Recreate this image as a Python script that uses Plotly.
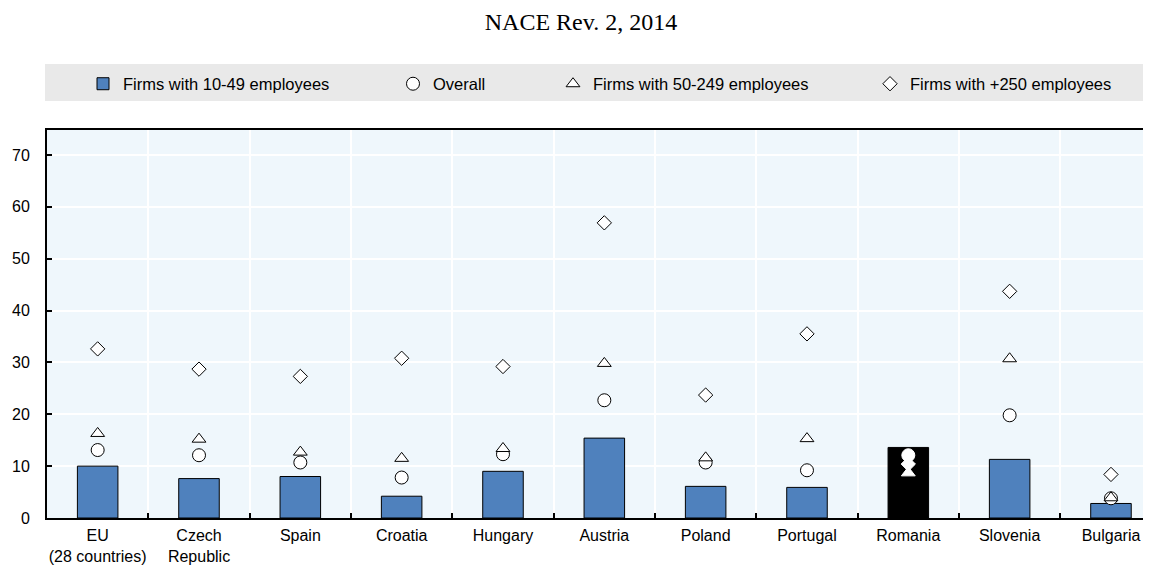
import plotly.graph_objects as go

countries = ["EU<br>(28 countries)", "Czech<br>Republic", "Spain", "Croatia", "Hungary",
             "Austria", "Poland", "Portugal", "Romania", "Slovenia", "Bulgaria"]
firms_10_49 = [10.0, 7.6, 8.0, 4.2, 9.0, 15.4, 6.1, 5.9, 13.6, 11.3, 2.8]
overall = [13.1, 12.1, 10.7, 7.8, 12.3, 22.7, 10.7, 9.2, 12.1, 19.8, 3.8]
firms_50_249 = [16.3, 15.2, 12.7, 11.5, 13.4, 29.8, 11.6, 15.3, 8.7, 30.7, 3.9]
firms_250 = [32.6, 28.7, 27.3, 30.8, 29.2, 56.9, 23.7, 35.5, 10.4, 43.7, 8.4]
highlight = "Romania"

BLUE = "#4F81BD"
FONT = "Liberation Sans, Arial, sans-serif"
x = list(range(len(countries)))
is_hl = [c == highlight for c in countries]

bar_colors = ["#000000" if h else BLUE for h in is_hl]
mk_fill = ["#FFFFFF" for h in is_hl]
mk_line = ["#FFFFFF" if h else "#000000" for h in is_hl]

fig = go.Figure()
fig.add_trace(go.Bar(
    x=x, y=firms_10_49, name="Firms with 10-49 employees", width=0.4,
    marker=dict(color=bar_colors, line=dict(color="#000000", width=1)),
    legendwidth=265,
))


def add_markers(vals, name, symbol, size, lw):
    fig.add_trace(go.Scatter(
        x=x, y=vals, name=name, mode="markers",
        marker=dict(symbol=symbol, size=size, color=mk_fill,
                    line=dict(color=mk_line, width=1)),
        legendwidth=lw, cliponaxis=False,
    ))


add_markers(overall, "Overall", "circle", 13, 115)
add_markers(firms_50_249, "Firms with 50-249 employees", "triangle-up", 12, 272)
add_markers(firms_250, "Firms with +250 employees", "diamond", 11, 220)

# the page body adds an 8px offset; the figure is sized to fill the rest of the window
OFF = 8
W, H = 1151 - OFF, 567 - OFF
ML, MR, MT, MB = 47 - OFF, 0, 130 - OFF, 49
pw = W - ML - MR
ph = H - MT - MB


def px_x(p):
    return (p - OFF - ML) / pw


def px_y(p):
    return (H - MB - (p - OFF)) / ph


fig.add_shape(type="rect", xref="paper", yref="paper",
              x0=px_x(45), x1=px_x(1160), y0=px_y(101), y1=px_y(64),
              fillcolor="#E9E9E9", line=dict(width=0), layer="below")

fig.update_layout(
    width=W, height=H,
    margin=dict(l=ML, r=MR, t=MT, b=MB, autoexpand=False),
    paper_bgcolor="#FFFFFF",
    plot_bgcolor="#EFF7FC",
    font=dict(family=FONT, size=16, color="#000000"),
    title=dict(text="NACE Rev. 2, 2014", x=(581 - OFF) / W, xref="container", xanchor="center",
               y=1 - (22 - OFF) / H, yref="container", yanchor="middle",
               font=dict(family="Liberation Serif, Times New Roman, serif", size=24, color="#000000")),
    showlegend=True,
    legend=dict(orientation="h", x=px_x(83), xanchor="left", y=px_y(84), yanchor="middle",
                bgcolor="rgba(0,0,0,0)", font=dict(family=FONT, size=16.5, color="#000000"),
                traceorder="normal"),
    bargap=0.6,
)

fig.update_xaxes(
    range=[-0.5, 10.395], tickmode="array", tickvals=x, ticktext=countries,
    showgrid=False, ticks="", showline=True, linecolor="#000000", linewidth=2, mirror=True,
    zeroline=False, tickfont=dict(family=FONT, size=16, color="#000000"),
    ticklabelstandoff=2,
    minor=dict(tickmode="array", tickvals=[i + 0.5 for i in x[:-1]], ticks="inside",
               ticklen=5, tickwidth=2, tickcolor="#000000",
               showgrid=True, gridcolor="#FFFFFF", gridwidth=2),
)
fig.update_yaxes(
    range=[0, 74.8], tickmode="array", tickvals=[0, 10, 20, 30, 40, 50, 60, 70],
    showgrid=True, gridcolor="#FFFFFF", gridwidth=2,
    ticks="inside", ticklen=5, tickwidth=2, tickcolor="#000000",
    showline=True, linecolor="#000000", linewidth=2, zeroline=False,
    ticklabelstandoff=12,
    tickfont=dict(family=FONT, size=16, color="#000000"),
)

fig.write_html("out.html")
